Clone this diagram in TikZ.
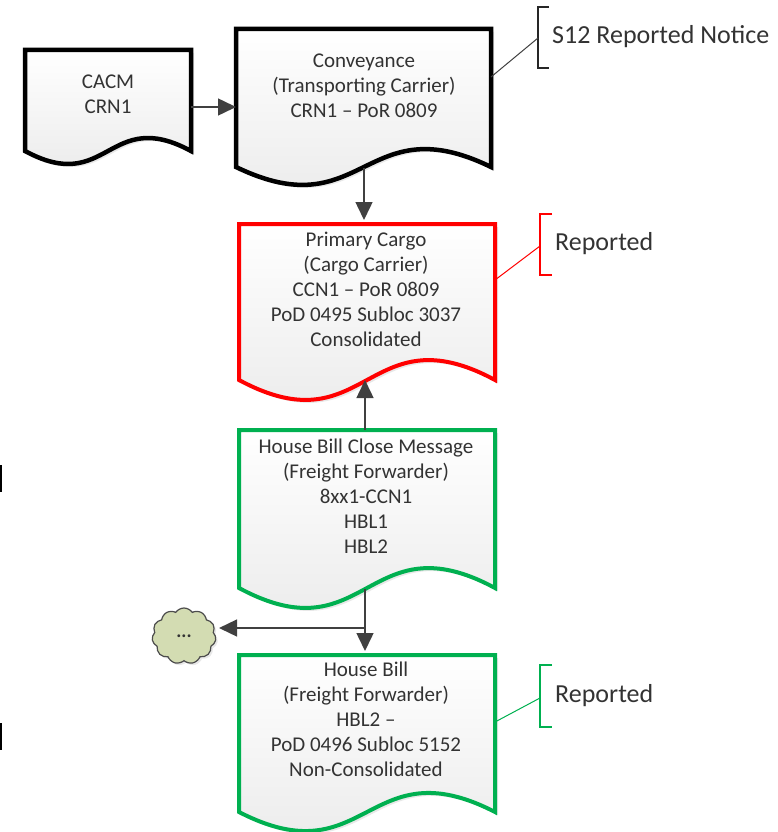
\documentclass[tikz,border=0pt]{standalone}
\usepackage{fontspec}
\setmainfont{Carlito}
\usetikzlibrary{shapes.symbols,shadows,arrows.meta}
\definecolor{txt}{HTML}{333333}
\definecolor{lnk}{HTML}{404040}
\definecolor{redb}{HTML}{FF0000}
\definecolor{greenb}{HTML}{00B050}
\definecolor{cloudf}{HTML}{D3DCB2}
\tikzset{
  docbase/.style={line join=miter, top color=white, bottom color=black!9,
    drop shadow={opacity=0.18, shadow xshift=3pt, shadow yshift=-3pt}},
  blackdoc/.style={docbase, draw=black, line width=4.5pt},
  reddoc/.style={docbase, draw=redb, line width=4pt},
  greendoc/.style={docbase, draw=greenb, line width=4pt},
  boxtext/.style={align=center, text=txt, font=\fontsize{21}{25}\selectfont, inner sep=0pt},
  notetext/.style={anchor=west, text=txt, font=\fontsize{26}{30}\selectfont, inner sep=0pt},
  conn/.style={draw=lnk, line width=1.5pt, -{Triangle[length=18pt,width=17pt]}},
  bracketline/.style={line width=1.3pt},
}
\begin{document}
\begin{tikzpicture}[x=1pt,y=-1pt]
\useasboundingbox (0,0) rectangle (778,832);

% CACM document
\draw[blackdoc] (25,50) -- (191,50) -- (191,151)
  .. controls (108,106) and (108,196) .. (25,151) -- cycle;
\node[boxtext] (cacm) at (108,94) {CACM\\CRN1};
\coordinate (cacm-e) at (191,107);

% Conveyance
\draw[blackdoc] (236,29) -- (491,29) -- (491,167)
  .. controls (364,105) and (364,229) .. (236,167) -- cycle;
\node[boxtext] (conv) at (364,86) {Conveyance\\(Transporting Carrier)\\CRN1 -- PoR 0809};
\coordinate (conv-w) at (236,107);
\coordinate (conv-s) at (364,168);
\coordinate (conv-e) at (491,77);

% Primary Cargo
\draw[reddoc] (239,224) -- (495,224) -- (495,380)
  .. controls (367,311) and (367,449) .. (239,380) -- cycle;
\node[boxtext] (prim) at (366,289) {Primary Cargo\\(Cargo Carrier)\\CCN1 -- PoR 0809\\PoD 0495 Subloc 3037\\Consolidated};
\coordinate (prim-n) at (364,220);
\coordinate (prim-s) at (365,380);
\coordinate (prim-e) at (495,280);

% House Bill Close Message
\draw[greendoc] (239,430) -- (495,430) -- (495,588)
  .. controls (367,519) and (367,657) .. (239,588) -- cycle;
\node[boxtext] (hbc) at (366,496) {House Bill Close Message\\(Freight Forwarder)\\8xx1-CCN1\\HBL1\\HBL2};
\coordinate (hbc-n) at (365,430);
\coordinate (hbc-s) at (365,589);

% House Bill
\draw[greendoc] (239,655) -- (495,655) -- (495,812)
  .. controls (367,746) and (367,878) .. (239,812) -- cycle;
\node[boxtext] (hb) at (366,719) {House Bill\\(Freight Forwarder)\\HBL2 --\\PoD 0496 Subloc 5152\\Non-Consolidated};
\coordinate (hb-n) at (365,651);
\coordinate (hb-e) at (495,722);

% cloud
\node[cloud, cloud puffs=11, cloud puff arc=110, aspect=1.15, draw=black!70, line width=1.2pt,
  fill=cloudf, minimum width=64pt, minimum height=56pt, inner sep=0pt,
  drop shadow={opacity=0.18, shadow xshift=2pt, shadow yshift=-2pt},
  font=\fontsize{19}{19}\bfseries, text=txt] (cloud) at (184,636) {\raisebox{-3pt}{...}};
\coordinate (br) at (365,628);

% connectors
\draw[conn] (cacm-e) -- (conv-w);
\draw[conn] (conv-s) -- (prim-n);
\draw[conn] (hbc-n) -- (prim-s);
\draw[conn] (hbc-s) -- (hb-n);
\draw[conn] (br) -- ([xshift=3pt]cloud.east |- br);

% annotations
\coordinate (b1) at (538,38);
\draw[bracketline, draw=black!85] (549,7) -- (538,7) -- (538,68) -- (549,68);
\draw[line width=1pt, draw=lnk] (conv-e) -- (b1);
\node[notetext] (n1) at (552,37) {S12 Reported Notice};

\coordinate (b2) at (540,246);
\draw[bracketline, draw=redb] (552,214) -- (540,214) -- (540,275) -- (552,275);
\draw[line width=1pt, draw=redb] (prim-e) -- (b2);
\node[notetext] (n2) at (555,244) {Reported};

\coordinate (b3) at (540,698);
\draw[bracketline, draw=greenb] (552,665) -- (540,665) -- (540,727) -- (552,727);
\draw[line width=1pt, draw=greenb] (hb-e) -- (b3);
\node[notetext] (n3) at (555,696) {Reported};

% cropped fragments at left edge
\draw[line width=2.5pt, draw=black] (1,465) -- (1,492);
\draw[line width=2.5pt, draw=black] (1,723) -- (1,750);
\end{tikzpicture}
\end{document}
